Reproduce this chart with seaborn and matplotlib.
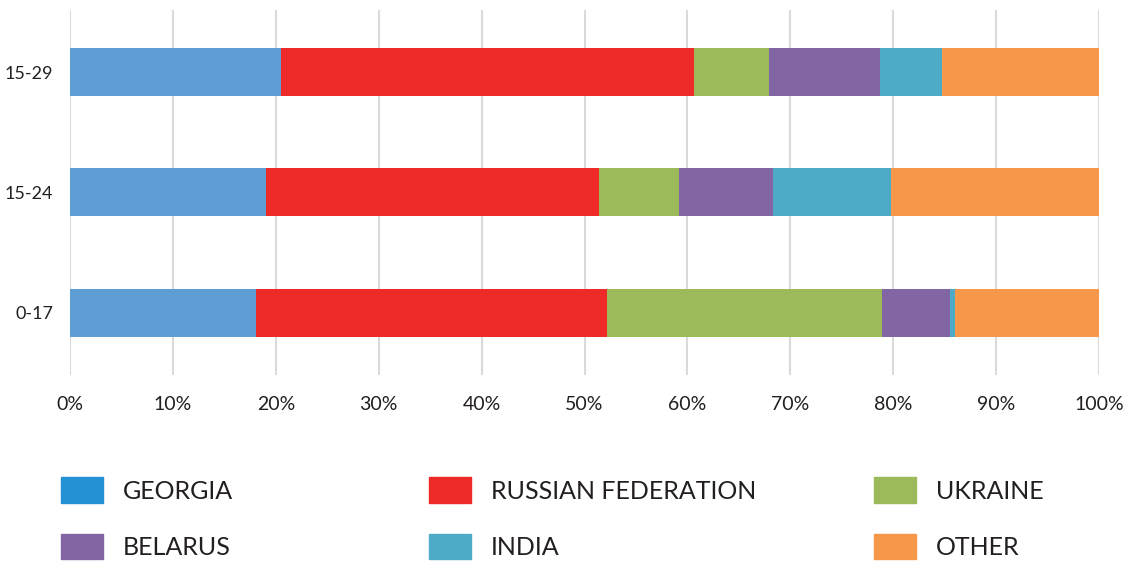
import numpy as np
import pandas as pd
import matplotlib
matplotlib.use("Agg")
import matplotlib.pyplot as plt
import matplotlib.patches as mpatches
import seaborn as sns

# datos
grupos = ["15-29", "15-24", "0-17"]
paises = ["GEORGIA", "RUSSIAN FEDERATION", "UKRAINE", "BELARUS", "INDIA", "OTHER"]
georgia = [20.5, 19.0, 18.1]
russia = [40.1, 32.4, 34.1]
ukraine = [7.3, 7.8, 26.7]
belarus = [10.8, 9.1, 6.6]
india = [6.0, 11.5, 0.5]
other = [15.3, 20.2, 14.0]

colores_barra = ["#5F9ED4", "#EE2A29", "#9DBA5A", "#8166A3", "#4DABC7", "#F7974A"]
colores_leyenda = ["#2391D3", "#EE2A29", "#9DBA5A", "#8166A3", "#4DABC7", "#F7974A"]

sns.set_style("white")
plt.rcParams['font.family'] = ['Lato', 'DejaVu Sans']
texto = "#231F20"

df = pd.DataFrame({"grupo": grupos, "GEORGIA": georgia, "RUSSIAN FEDERATION": russia,
                   "UKRAINE": ukraine, "BELARUS": belarus, "INDIA": india, "OTHER": other})
acum = df[paises].cumsum(axis=1)

fig = plt.figure(figsize=(11.3, 5.61), dpi=100)
ax = fig.add_axes([0.062, 0.332, 0.9106, 0.650])

# barras apiladas: de la mayor acumulada a la menor
for pais, color in reversed(list(zip(paises, colores_barra))):
    sns.barplot(x=acum[pais], y=df["grupo"], color=color, orient="h",
                width=0.4, ax=ax, order=grupos, saturation=1, linewidth=0)

ax.set_xlim(0, 100)
ax.set_ylim(2.515, -0.515)
ax.set_xticks(np.arange(0, 101, 10))
ax.set_xticklabels([f"{v}%" for v in range(0, 101, 10)])
ax.xaxis.grid(True, color="#DADADA", linewidth=1.5)
ax.set_axisbelow(True)
for s in ax.spines.values():
    s.set_visible(False)
ax.set_xlabel("")
ax.set_ylabel("")
ax.tick_params(axis="x", labelsize=14, colors=texto, length=0, pad=15)
ax.tick_params(axis="y", labelsize=13, colors=texto, length=0, pad=12)

# leyenda en tres columnas
fs = 18
xs = [0.054, 0.3796, 0.7735]
for i, x in enumerate(xs):
    handles = [mpatches.Patch(color=colores_leyenda[i], label=paises[i]),
               mpatches.Patch(color=colores_leyenda[i + 3], label=paises[i + 3])]
    fig.legend(handles=handles, loc="upper left", bbox_to_anchor=(x, 0.149),
               frameon=False, fontsize=fs, handlelength=1.68, handleheight=1.2,
               handletextpad=0.8, labelspacing=1.22, borderaxespad=0, borderpad=0,
               labelcolor=texto)

fig.savefig("out.png", dpi=100)
